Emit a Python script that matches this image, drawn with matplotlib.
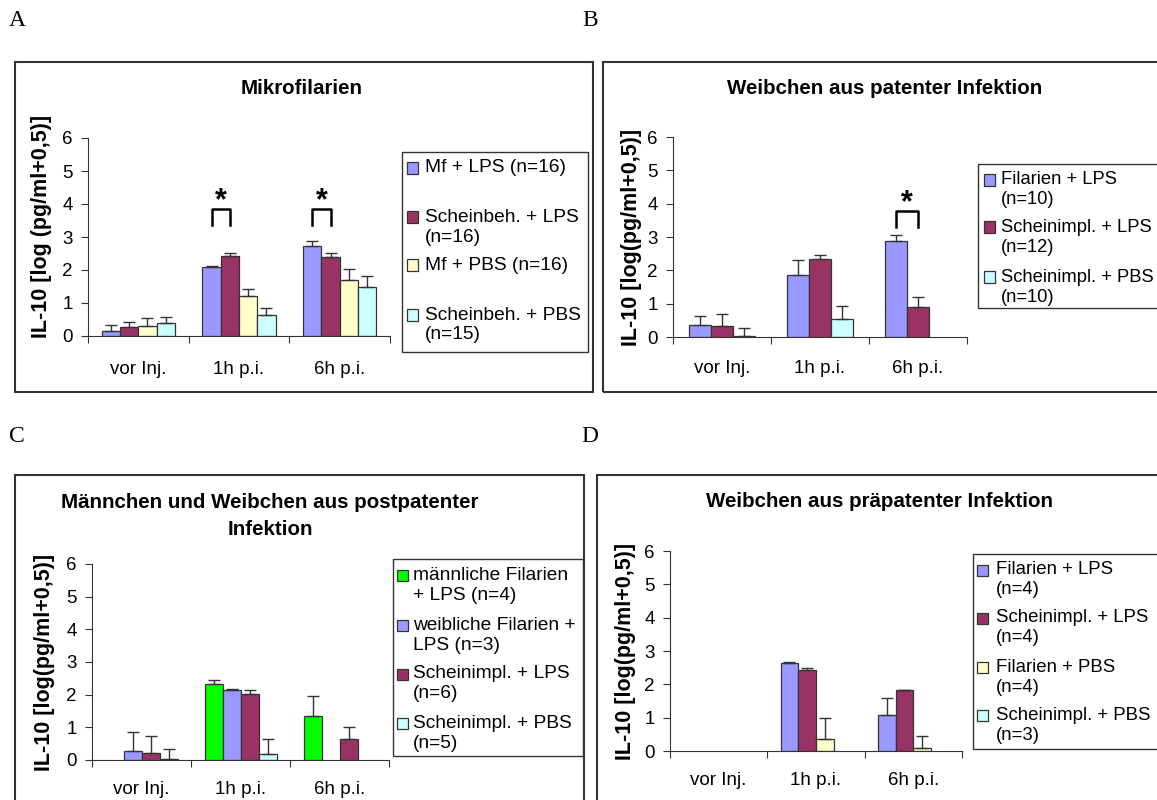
import numpy as np
import matplotlib
matplotlib.use("Agg")
import matplotlib.pyplot as plt
from matplotlib.patches import Rectangle

plt.rcParams['font.family'] = ['Liberation Sans', 'DejaVu Sans']

W, H = 1157, 800
nan = np.nan

categories = ["vor Inj.", "1h p.i.", "6h p.i."]

# colours (Excel palette)
c_blue = "#9999FF"
c_maroon = "#993366"
c_yellow = "#FFFFCC"
c_cyan = "#CCFFFF"
c_green = "#00FF00"

# A: Mikrofilarien
a_title = "Mikrofilarien"
a_ylabel = "IL-10 [log (pg/ml+0,5)]"
a_labels = ["Mf + LPS (n=16)", "Scheinbeh. + LPS\n(n=16)", "Mf + PBS (n=16)", "Scheinbeh. + PBS\n(n=15)"]
a_mf_lps = [0.16, 2.08, 2.74]
a_mf_lps_err = [0.17, 0.05, 0.14]
a_sch_lps = [0.26, 2.43, 2.38]
a_sch_lps_err = [0.17, 0.09, 0.14]
a_mf_pbs = [0.31, 1.20, 1.70]
a_mf_pbs_err = [0.24, 0.23, 0.33]
a_sch_pbs = [0.38, 0.63, 1.47]
a_sch_pbs_err = [0.20, 0.23, 0.36]
a_sig = [1, 2]

# B: Weibchen aus patenter Infektion
b_title = "Weibchen aus patenter Infektion"
b_ylabel = "IL-10 [log(pg/ml+0,5)]"
b_labels = ["Filarien + LPS\n(n=10)", "Scheinimpl. + LPS\n(n=12)", "Scheinimpl. + PBS\n(n=10)"]
b_fil_lps = [0.37, 1.87, 2.88]
b_fil_lps_err = [0.27, 0.45, 0.17]
b_sch_lps = [0.34, 2.34, 0.91]
b_sch_lps_err = [0.36, 0.12, 0.29]
b_sch_pbs = [0.02, 0.55, nan]
b_sch_pbs_err = [0.24, 0.38, nan]
b_sig = [2]

# C: Männchen und Weibchen aus postpatenter Infektion
c_title = "Männchen und Weibchen aus postpatenter\nInfektion"
c_ylabel = "IL-10 [log(pg/ml+0,5)]"
c_labels = ["männliche Filarien\n+ LPS (n=4)", "weibliche Filarien +\nLPS (n=3)", "Scheinimpl. + LPS\n(n=6)", "Scheinimpl. + PBS\n(n=5)"]
c_m_lps = [nan, 2.32, 1.35]
c_m_lps_err = [nan, 0.13, 0.62]
c_w_lps = [0.27, 2.14, nan]
c_w_lps_err = [0.58, 0.04, nan]
c_sch_lps = [0.20, 2.02, 0.64]
c_sch_lps_err = [0.54, 0.12, 0.36]
c_sch_pbs = [0.02, 0.17, nan]
c_sch_pbs_err = [0.31, 0.46, nan]

# D: Weibchen aus präpatenter Infektion
d_title = "Weibchen aus präpatenter Infektion"
d_ylabel = "IL-10 [log(pg/ml+0,5)]"
d_labels = ["Filarien + LPS\n(n=4)", "Scheinimpl. + LPS\n(n=4)", "Filarien + PBS\n(n=4)", "Scheinimpl. + PBS\n(n=3)"]
d_fil_lps = [nan, 2.65, 1.07]
d_fil_lps_err = [nan, 0.02, 0.51]
d_sch_lps = [nan, 2.42, 1.82]
d_sch_lps_err = [nan, 0.08, 0.02]
d_fil_pbs = [nan, 0.36, 0.08]
d_fil_pbs_err = [nan, 0.62, 0.36]
d_sch_pbs = [nan, nan, nan]
d_sch_pbs_err = [nan, nan, nan]


def fx(x):
    return x / W


def fy(y):
    return 1 - y / H


fig = plt.figure(figsize=(W / 100, H / 100), dpi=100)


def frame(x0, y0, x1, y1):
    fig.patches.append(Rectangle((fx(x0), fy(y1)), fx(x1) - fx(x0), fy(y0) - fy(y1),
                                 transform=fig.transFigure, fill=False,
                                 edgecolor="#333333", linewidth=1.5))


def panel(box, series, errs, colors, sig=None, xpad=15):
    x0, y0, x1, y1 = box
    ax = fig.add_axes([fx(x0), fy(y1), fx(x1) - fx(x0), fy(y0) - fy(y1)])
    x = np.arange(len(categories))
    n = len(series)
    w = 1.0 / (n + 1.5)
    for i, (vals, err, col) in enumerate(zip(series, errs, colors)):
        off = (i - (n - 1) / 2) * w
        vals = np.array(vals, dtype=float)
        err = np.array(err, dtype=float)
        ax.bar(x + off, vals, w, color=col, edgecolor="#333333", linewidth=0.9, zorder=2)
        ax.errorbar(x + off, vals, yerr=[np.zeros_like(err), err], fmt="none",
                    ecolor="#333333", elinewidth=1, capsize=4, capthick=1, zorder=3)
    if sig:
        for c in sig:
            xa = c + (0 - (n - 1) / 2) * w
            xb = c + (1 - (n - 1) / 2) * w
            top = 3.85 if n == 4 else 3.78
            ax.plot([xa, xa, xb, xb], [top - 0.48, top, top, top - 0.48],
                    color="black", linewidth=1.8, zorder=4)
            ax.text(c + (0.5 - (n - 1) / 2) * w, top - 0.22, "*", ha="center", va="bottom",
                    fontsize=22, fontweight="bold")
    ax.set_xlim(-0.5, 2.5)
    ax.set_ylim(0, 6)
    ax.set_yticks(range(7))
    ax.set_xticks([-0.5, 0.5, 1.5, 2.5])
    ax.set_xticklabels([])
    ax.set_xticks(x, minor=True)
    ax.set_xticklabels(categories, minor=True)
    ax.tick_params(axis="x", which="major", length=5, direction="out", color="#333333")
    ax.tick_params(axis="x", which="minor", length=0, pad=xpad, labelsize=13.5)
    ax.tick_params(axis="y", length=5, direction="out", color="#333333", pad=6, labelsize=13.5)
    for s in ["top", "right"]:
        ax.spines[s].set_visible(False)
    for s in ["left", "bottom"]:
        ax.spines[s].set_color("#333333")
    return ax


def legend(box, labels, colors, rows, sq_x, txt_x, sq=11, dy=20, fs=13.8):
    x0, y0, x1, y1 = box
    fig.patches.append(Rectangle((fx(x0), fy(y1)), fx(x1) - fx(x0), fy(y0) - fy(y1),
                                 transform=fig.transFigure, fill=False,
                                 edgecolor="#333333", linewidth=1.0))
    for lab, col, yr in zip(labels, colors, rows):
        fig.patches.append(Rectangle((fx(sq_x), fy(yr + sq / 2)), sq / W, sq / H,
                                     transform=fig.transFigure, facecolor=col,
                                     edgecolor="#333333", linewidth=0.9))
        for j, line in enumerate(lab.split("\n")):
            fig.text(fx(txt_x), fy(yr + j * dy), line, ha="left", va="center", fontsize=fs)


def ylabel(x, y, s):
    fig.text(fx(x), fy(y), s, rotation=90, ha="center", va="center",
             fontsize=15.5, fontweight="bold")


def title(x, y, s, **kw):
    fig.text(fx(x), fy(y), s, ha="center", va="center", fontsize=14.8,
             fontweight="bold", **kw)


# frames
frame(15, 62, 593, 392)
frame(603, 62, 1165, 392)
frame(15, 475, 584, 810)
frame(597, 475, 1165, 810)

# panel letters
for lx, ly, letter in [(17, 21, "A"), (590, 21, "B"), (17, 437, "C"), (590, 437, "D")]:
    fig.text(fx(lx), fy(ly), letter, ha="center", va="center", fontsize=17,
             family="Liberation Serif")

# A
panel((88, 138, 390, 336),
      [a_mf_lps, a_sch_lps, a_mf_pbs, a_sch_pbs],
      [a_mf_lps_err, a_sch_lps_err, a_mf_pbs_err, a_sch_pbs_err],
      [c_blue, c_maroon, c_yellow, c_cyan], sig=a_sig, xpad=18)
title(302, 88, a_title)
ylabel(42, 226, a_ylabel)
legend((402, 152, 588, 352), a_labels, [c_blue, c_maroon, c_yellow, c_cyan],
       [168, 217, 265, 315], 407, 425)

# B
panel((673, 137, 967, 337),
      [b_fil_lps, b_sch_lps, b_sch_pbs],
      [b_fil_lps_err, b_sch_lps_err, b_sch_pbs_err],
      [c_blue, c_maroon, c_cyan], sig=b_sig, xpad=16.5)
title(885, 88, b_title)
ylabel(632, 237, b_ylabel)
legend((978, 164, 1165, 308), b_labels, [c_blue, c_maroon, c_cyan],
       [180, 227, 277], 984, 1001, fs=13.2)

# C
panel((92, 564, 389, 760),
      [c_m_lps, c_w_lps, c_sch_lps, c_sch_pbs],
      [c_m_lps_err, c_w_lps_err, c_sch_lps_err, c_sch_pbs_err],
      [c_green, c_blue, c_maroon, c_cyan], xpad=15)
title(270, 516, c_title, multialignment="center", linespacing=1.55)
ylabel(45, 662, c_ylabel)
legend((393, 559, 583, 756), c_labels, [c_green, c_blue, c_maroon, c_cyan],
       [575, 625, 674, 723], 397, 413)

# D
panel((670, 551, 962, 751),
      [d_fil_lps, d_sch_lps, d_fil_pbs, d_sch_pbs],
      [d_fil_lps_err, d_sch_lps_err, d_fil_pbs_err, d_sch_pbs_err],
      [c_blue, c_maroon, c_yellow, c_cyan], xpad=15)
title(880, 502, d_title)
ylabel(625, 651, d_ylabel)
legend((973, 554, 1165, 749), d_labels, [c_blue, c_maroon, c_yellow, c_cyan],
       [570, 618, 667, 715], 977, 996, fs=13.4)

fig.savefig("out.png", dpi=100)
